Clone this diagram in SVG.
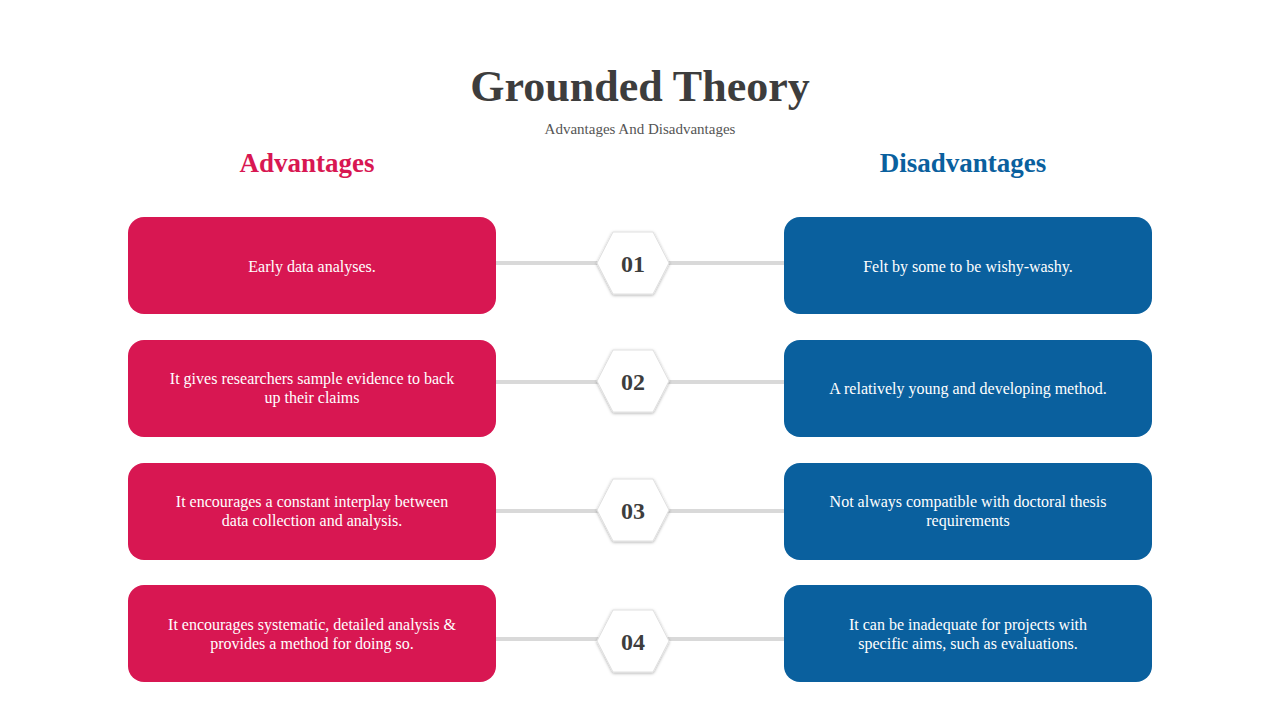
<svg xmlns="http://www.w3.org/2000/svg" width="1280" height="720" viewBox="0 0 1280 720">
<defs>
<filter id="sh" x="-20%" y="-20%" width="140%" height="140%"><feDropShadow dx="0" dy="1" stdDeviation="1.5" flood-color="#000" flood-opacity="0.3"/></filter>
<polygon id="hex" points="-36,0 -20,-31 20,-31 36,0 20,31 -20,31"/>
</defs>
<style>
text{font-family:"Liberation Serif","DejaVu Serif",serif;text-anchor:middle}
.adv{fill:#d81752}.dis{fill:#0a609e}
.bt{fill:#fff;font-size:16px}
.num{fill:#3d3d3d;font-size:24px;font-weight:bold}
.ln{stroke:#d9d9d9;stroke-width:4}
.hx{fill:#fff;stroke:#e0e0e0;stroke-width:1;filter:url(#sh)}
</style>
<rect width="1280" height="720" fill="#fff"/>
<text x="640" y="101" font-size="44" font-weight="bold" fill="#3d3d3d">Grounded Theory</text>
<text x="640" y="134" font-size="15" fill="#555">Advantages And Disadvantages</text>
<text x="307" y="172" font-size="27" font-weight="bold" fill="#d81752">Advantages</text>
<text x="963" y="172" font-size="27" font-weight="bold" fill="#0a609e">Disadvantages</text>
<g id="connectors">
<line class="ln" x1="496" y1="263" x2="784" y2="263"/>
<line class="ln" x1="496" y1="382" x2="784" y2="382"/>
<line class="ln" x1="496" y1="511" x2="784" y2="511"/>
<line class="ln" x1="496" y1="639" x2="784" y2="639"/>
</g>
<g id="a1"><rect class="adv" x="128" y="217" width="368" height="97" rx="16"/><text class="bt" x="312" y="272">Early data analyses.</text></g>
<g id="a2"><rect class="adv" x="128" y="340" width="368" height="97" rx="16"/><text class="bt" x="312" y="384">It gives researchers sample evidence to back</text><text class="bt" x="312" y="403">up their claims</text></g>
<g id="a3"><rect class="adv" x="128" y="463" width="368" height="97" rx="16"/><text class="bt" x="312" y="507">It encourages a constant interplay between</text><text class="bt" x="312" y="526">data collection and analysis.</text></g>
<g id="a4"><rect class="adv" x="128" y="585" width="368" height="97" rx="16"/><text class="bt" x="312" y="630">It encourages systematic, detailed analysis  &amp;</text><text class="bt" x="312" y="649">provides a method for doing so.</text></g>
<g id="d1"><rect class="dis" x="784" y="217" width="368" height="97" rx="16"/><text class="bt" x="968" y="272">Felt by some to be wishy-washy.</text></g>
<g id="d2"><rect class="dis" x="784" y="340" width="368" height="97" rx="16"/><text class="bt" x="968" y="394">A relatively young and developing method.</text></g>
<g id="d3"><rect class="dis" x="784" y="463" width="368" height="97" rx="16"/><text class="bt" x="968" y="507">Not always compatible with doctoral thesis</text><text class="bt" x="968" y="526">requirements</text></g>
<g id="d4"><rect class="dis" x="784" y="585" width="368" height="97" rx="16"/><text class="bt" x="968" y="630">It can be inadequate for projects with</text><text class="bt" x="968" y="649">specific aims, such as evaluations.</text></g>
<g id="n1" transform="translate(633,263)"><use href="#hex" class="hx"/><text class="num" y="9">01</text></g>
<g id="n2" transform="translate(633,381)"><use href="#hex" class="hx"/><text class="num" y="9">02</text></g>
<g id="n3" transform="translate(633,510)"><use href="#hex" class="hx"/><text class="num" y="9">03</text></g>
<g id="n4" transform="translate(633,641)"><use href="#hex" class="hx"/><text class="num" y="9">04</text></g>
</svg>
